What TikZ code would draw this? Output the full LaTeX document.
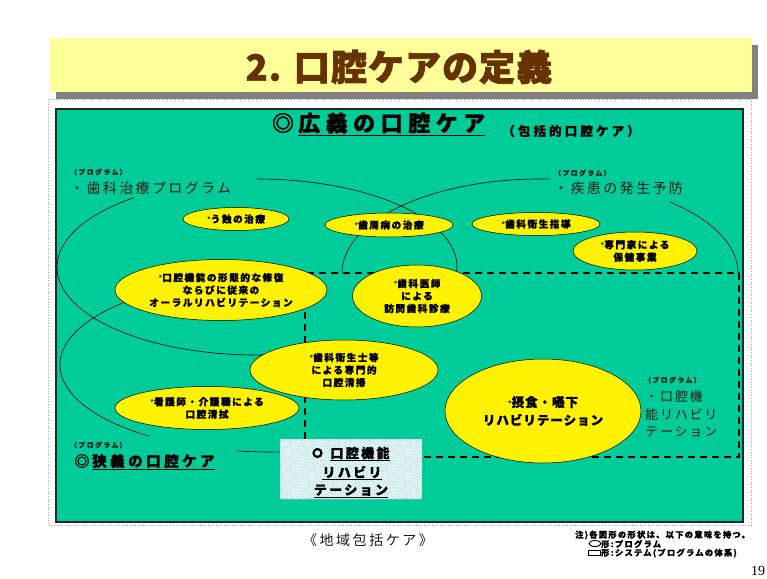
\documentclass[tikz,border=0pt]{standalone}
\usepackage{fontspec}
\setmainfont{Noto Sans CJK JP}
\newfontfamily\serifpn{Liberation Serif}
\usetikzlibrary{shapes.geometric,patterns}
\definecolor{panelgreen}{HTML}{00CC99}
\definecolor{titleyellow}{HTML}{FFFF99}
\definecolor{titlebrown}{HTML}{663300}
\definecolor{shadowgray}{HTML}{808080}
\definecolor{txt}{HTML}{1A1A1A}
\definecolor{hatch}{HTML}{8FDCDC}
\newcommand\lsp[1]{\addfontfeatures{LetterSpace=#1}}
\newcommand\lspb[2]{\addfontfeatures{LetterSpace=#1,FakeBold=#2}}
\newcommand\astm{{\color{darkgray}\mdseries\fontsize{8}{8}\selectfont *}}
\begin{document}
\begin{tikzpicture}[x=1pt,y=-1pt,
  yel/.style={ellipse, draw=black, line width=0.5pt, fill=yellow, inner sep=0pt, align=center,
    font=\bfseries\fontsize{9.7}{12.5}\selectfont\lspb{15}{1.1}},
  prog/.style={anchor=west, inner sep=0pt, font=\bfseries\fontsize{6.8}{8}\selectfont\lspb{22}{0.5}, text=txt},
  lbl/.style={anchor=west, inner sep=0pt, font=\fontsize{14}{17.5}\selectfont\lsp{17}, text=txt, align=left},
  arcline/.style={line width=0.6pt, draw=black},
  dashbox/.style={line width=2.6pt, dash pattern=on 7pt off 5pt},
  uline/.style={line width=1pt},
  note/.style={anchor=west, inner sep=0pt, font=\bfseries\fontsize{8.3}{9}\selectfont\lspb{15}{0.9}}
]
\useasboundingbox (0,0) rectangle (767,578);
\fill[white] (0,0) rectangle (767,578);
% title banner
\fill[shadowgray] (56,45) rectangle (758,99);
\fill[titleyellow] (50,38) rectangle (752,92);
\node[font=\bfseries\fontsize{36}{40}\selectfont\lspb{3}{1.8}, text=titlebrown, inner sep=0pt] (title) at (399,67) {2. 口腔ケアの定義};
% frames
\draw[gray!70, dotted, line width=0.7pt] (48,99) rectangle (751,525);
\draw[line width=1.6pt, draw=black!85, fill=panelgreen] (56,109) rectangle (743,522);
% large program ellipses (partial arcs)
\draw[arcline] (257,179) arc[start angle=-90, end angle=3, x radius=200, y radius=88];
\draw[arcline] (133.9,197.7) arc[start angle=232, end angle=85, x radius=200, y radius=88];
\draw[arcline] (550.4,179.1) arc[start angle=-87, end angle=-180, x radius=198, y radius=94];
\draw[arcline] (669.9,202.1) arc[start angle=-49, end angle=0, x radius=198, y radius=94];
\draw[arcline] (149.5,293.7) arc[start angle=235, end angle=125, x radius=210, y radius=87];
\draw[arcline] (237.2,450.9) arc[start angle=99, end angle=86, x radius=210, y radius=87];
% dashed system box
\draw[dashbox] (305,439) -- (305,273) -- (739,273) -- (739,457) -- (422,457);
% yellow program ellipses
\node[yel, minimum width=106, minimum height=23] (e1) at (236,219) {\astm う蝕の治療};
\node[yel, minimum width=128, minimum height=24] (e2) at (389,225) {\astm 歯周病の治療};
\node[yel, minimum width=128, minimum height=23] (e3) at (536,224) {\astm 歯科衛生指導};
\node[yel, minimum width=124, minimum height=38] (e4) at (635,251) {\astm 専門家による\\保健事業};
\node[yel, minimum width=212, minimum height=61] (e5) at (221,290) {\astm 口腔機能の形態的な修復\\ならびに従来の\\オーラルリハビリテーション};
\node[yel, minimum width=129, minimum height=62] (e6) at (417,296) {\astm 歯科医師\\による\\訪問歯科診療};
\node[yel, minimum width=188, minimum height=60] (e7) at (344,370) {\astm 歯科衛生士等\\による専門的\\口腔清掃};
\node[yel, minimum width=184, minimum height=43] (e8) at (207,408) {\astm 看護師・介護職による\\口腔清拭};
\node[yel, minimum width=196, minimum height=104, font=\bfseries\fontsize{12.5}{18}\selectfont\lspb{8}{1.3}] (e9) at (543,411) {\astm 摂食・嚥下\\リハビリテーション};
% rehabilitation system box
\fill[white] (280,439) rectangle (422,499);
\fill[pattern=north east lines, pattern color=hatch] (280,439) rectangle (422,499);
\draw[line width=2.2pt] (317.5,453) circle (4);
\node[inner sep=0pt, font=\bfseries\fontsize{13}{18}\selectfont\lspb{18}{1.3}] (r1) at (360,453) {口腔機能};
\node[inner sep=0pt, font=\bfseries\fontsize{13}{18}\selectfont\lspb{18}{1.3}] (r2) at (352,472) {リハビリ};
\node[inner sep=0pt, font=\bfseries\fontsize{13}{18}\selectfont\lspb{18}{1.3}] (r3) at (351,490) {テーション};
\draw[uline] ([yshift=-1.5pt]r1.south west) -- ([yshift=-1.5pt]r1.south east);
\draw[uline] ([yshift=-1.5pt]r2.south west) -- ([yshift=-1.5pt]r2.south east);
\draw[uline] ([yshift=-1.5pt]r3.south west) -- ([yshift=-1.5pt]r3.south east);
% headings
\node[inner sep=0pt, font=\bfseries\fontsize{22}{24}\selectfont\lspb{0}{1.5}] (h0) at (283,123) {◎};
\node[anchor=west, inner sep=0pt, font=\bfseries\fontsize{22}{24}\selectfont\lspb{25}{1}] (h1) at (298,123) {広義の口腔ケア};
\draw[line width=1.3pt] ([yshift=-1.5pt]h1.south west) -- ([yshift=-1.5pt]h1.south east);
\node[anchor=west, inner sep=0pt, font=\bfseries\fontsize{12.5}{14}\selectfont\lspb{25}{1}] (h2) at (502,131) {（包括的口腔ケア）};
% program labels
\node[prog] (p1) at (70,172) {（プログラム）};
\node[lbl] (l1) at (70,188) {・歯科治療プログラム};
\node[prog] (p2) at (554,173) {（プログラム）};
\node[lbl] (l2) at (554,188) {・疾患の発生予防};
\node[prog] (p3) at (644,380) {（プログラム）};
\node[lbl, font=\fontsize{13}{17.5}\selectfont\lsp{14}] (l3) at (645,414) {・口腔機\\能リハビリ\\テーション};
\node[prog] (p4) at (70,445) {（プログラム）};
\node[inner sep=0pt, font=\bfseries\fontsize{15}{17}\selectfont\lspb{0}{1.5}] (n0) at (82,461) {◎};
\node[anchor=west, inner sep=0pt, font=\bfseries\fontsize{14.5}{17}\selectfont\lspb{24}{1}] (n1) at (92,461) {狭義の口腔ケア};
\draw[line width=1.2pt] ([yshift=-1.2pt]n1.south west) -- ([yshift=-1.2pt]n1.south east);
% bottom texts
\node[inner sep=0pt, font=\fontsize{14}{16}\selectfont\lsp{18}, text=txt] (chiiki) at (368,540) {《地域包括ケア》};
\node[note] (nt1) at (575,535) {注)各図形の形状は、以下の意味を持つ。};
\node[ellipse, draw, line width=0.9pt, minimum width=12, minimum height=6, inner sep=0pt] (sym1) at (595,543.5) {};
\node[note] (nt2) at (601,544) {形:プログラム};
\node[draw, line width=0.9pt, minimum width=12, minimum height=5, inner sep=0pt] (sym2) at (594.5,553) {};
\node[note] (nt3) at (601,553) {形:システム(プログラムの体系)};
\node[anchor=west, inner sep=0pt, font=\serifpn\fontsize{14}{16}\selectfont] (pg) at (751,571) {19};
\end{tikzpicture}
\end{document}
